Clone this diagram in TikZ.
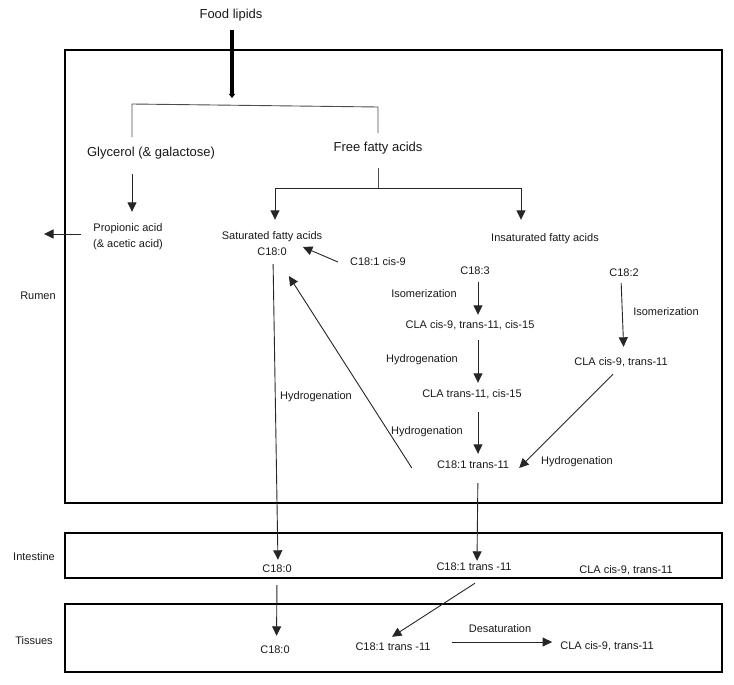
\documentclass[tikz,border=0pt]{standalone}
\usepackage{fontspec}
\setmainfont{Liberation Sans}
\usetikzlibrary{arrows.meta,calc}
\begin{document}
\begin{tikzpicture}[x=1pt,y=-1pt,
  sm/.style={inner sep=0pt, text height=8pt, text depth=2pt, font=\fontsize{11}{13}\selectfont, text=black!90},
  lg/.style={inner sep=0pt, text height=9.5pt, text depth=2.5pt, font=\fontsize{13}{15}\selectfont, text=black!90},
  zone/.style={draw=black, line width=2.2pt, inner sep=0pt, minimum width=657pt},
  arr/.style={draw=black!85, line width=0.9pt, -{Triangle[length=9.5pt,width=9pt]}},
  plainline/.style={draw=black!70, line width=0.9pt},
  foodarr/.style={draw=black, line width=3.5pt, -{Triangle[length=4pt,width=6pt]}}
]
\useasboundingbox (0,0) rectangle (734,685);

% zones
\node[zone, minimum height=453pt] (rumenbox) at (393.5,276.5) {};
\node[zone, minimum height=45pt] (intbox) at (393.5,555.5) {};
\node[zone, minimum height=68pt] (tisbox) at (393.5,638) {};

% zone labels
\node[sm] (rumen) at (38,296) {Rumen};
\node[sm] (intestine) at (34,557) {Intestine};
\node[sm] (tissues) at (34,641) {Tissues};

% top
\node[lg] (food) at (231,15) {Food lipids};
\node[lg] (glycerol) at (151,153) {Glycerol (\& galactose)};
\node[lg] (ffa) at (378,148) {Free fatty acids};
\node[sm] (prop1) at (128,228) {Propionic acid};
\node[sm] (prop2) at (128,244) {(\& acetic acid)};
\node[sm] (sfa) at (272,236) {Saturated fatty acids};
\node[sm] (c180r) at (272,252) {C18:0};
\node[sm] (insat) at (545,238) {Insaturated fatty acids};
\node[sm] (c181cis) at (378,262) {C18:1 cis-9};

% C18:3 chain
\node[sm] (c183) at (475,271) {C18:3};
\node[sm] (iso1) at (424,294) {Isomerization};
\node[sm] (cla1) at (470,325) {CLA cis-9, trans-11, cis-15};
\node[sm] (hyd1) at (422,359) {Hydrogenation};
\node[sm] (cla2) at (472,394) {CLA trans-11, cis-15};
\node[sm] (hyd2) at (427,431) {Hydrogenation};
\node[sm] (c181t) at (473,465) {C18:1 trans-11};

% C18:2 chain
\node[sm] (c182) at (624,273) {C18:2};
\node[sm] (iso2) at (666,312) {Isomerization};
\node[sm] (cla3) at (621,362) {CLA cis-9, trans-11};
\node[sm] (hyd3) at (577,461) {Hydrogenation};

\node[sm] (hydL) at (316,396) {Hydrogenation};

% intestine
\node[sm] (c180i) at (277,569) {C18:0};
\node[sm] (c181ti) at (474,567) {C18:1 trans -11};
\node[sm] (clai) at (626,570) {CLA cis-9, trans-11};

% tissues
\node[sm] (c180t) at (275,650) {C18:0};
\node[sm] (c181tt) at (393,647) {C18:1 trans -11};
\node[sm] (desat) at (500,629) {Desaturation};
\node[sm] (clat) at (607,646) {CLA cis-9, trans-11};

% helper coordinates
\coordinate (split) at (232,104);
\coordinate (bL) at (132,104);
\coordinate (bR) at (378,107);
\coordinate (gL) at (132,137);
\coordinate (fR) at (378,133);
\coordinate (fork) at (378,188);
\coordinate (outL) at (44,234);

% connectors
\draw[foodarr, shorten <=9pt, shorten >=6pt] (food.south -| split) -- (split);
\draw[plainline] (gL) -- (bL) -- (bR) -- (fR);
\draw[arr, shorten <=15pt, shorten >=11pt] ([xshift=-19pt]glycerol.south) -- ([xshift=4pt]prop1.north);
\draw[arr] ([xshift=-12pt,yshift=-6pt]prop1.west) -- (outL);
\draw[plainline, shorten <=14pt] (ffa.south) -- (fork);
\draw[arr, shorten >=11pt] (fork) -| ([xshift=3pt]sfa.north);
\draw[arr, shorten >=13pt] (fork) -| ([xshift=-24pt]insat.north);
\draw[arr] ([xshift=-12pt]c181cis.west) -- ([xshift=16pt,yshift=5pt]c180r.east);

\draw[arr, shorten <=6pt, shorten >=5pt] ([xshift=3pt]c183.south) -- ([xshift=8pt]cla1.north);
\draw[arr, shorten <=10pt, shorten >=6pt] ([xshift=8pt]cla1.south) -- ([xshift=6pt]cla2.north);
\draw[arr, shorten <=13pt, shorten >=6pt] ([xshift=6pt]cla2.south) -- ([xshift=5pt]c181t.north);
\draw[arr, shorten <=5pt, shorten >=10pt] ([xshift=-3pt]c182.south) -- ([xshift=3pt]cla3.north);
\draw[arr] ([xshift=-8pt,yshift=-7pt]cla3.south) -- ([xshift=10pt,yshift=-3pt]c181t.east);
\draw[arr] ([xshift=-25pt,yshift=-3pt]c181t.west) -- ([xshift=2pt,yshift=-24pt]c180r.east);

\draw[arr, shorten <=7pt, shorten >=4pt] ([xshift=1pt]c180r.south) -- ([xshift=1pt]c180i.north);
\draw[arr, shorten <=13pt, shorten >=1pt] ([xshift=5pt]c181t.south) -- ([xshift=3pt]c181ti.north);

\draw[arr, shorten <=11pt, shorten >=9pt] (c180i.south) -- ([xshift=1.5pt]c180t.north);
\draw[arr] ([xshift=1pt,yshift=-11pt]c181ti.south) -- ([xshift=-1pt,yshift=5pt]c181tt.north);
\draw[arr, shorten <=21pt, shorten >=8pt] ([yshift=5pt]c181tt.east) -- ([yshift=4pt]clat.west);
\end{tikzpicture}
\end{document}
